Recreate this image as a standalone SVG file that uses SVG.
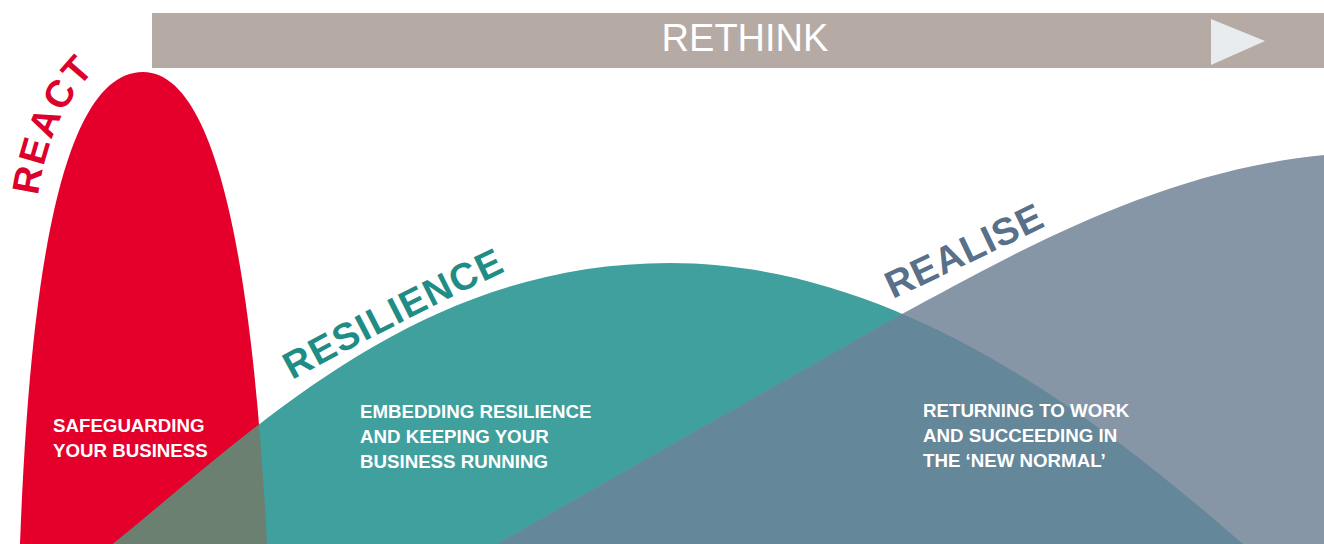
<svg xmlns="http://www.w3.org/2000/svg" width="1324" height="544" viewBox="0 0 1324 544">
<style>
.body{font-family:"Liberation Sans",Arial,sans-serif;font-weight:700;font-size:18.7px;fill:#ffffff}
.head{font-family:"Liberation Sans",Arial,sans-serif;font-weight:700}
</style>
<defs>
<path id="redShape" d="M20,544 C28,330 52,72 143,72 C228,72 256,330 267,544 Z"/>
<path id="tealShape" d="M113,544 C260,425 420,263 670,263 C900,263 1100,420 1243,544 Z"/>
<path id="slateShape" d="M497,544 L900,315 C1000,262 1150,172 1324,155 L1324,544 Z"/>
<clipPath id="clipRed"><use href="#redShape"/></clipPath>
<clipPath id="clipTeal"><use href="#tealShape"/></clipPath>
<path id="reactPath" d="M38,196 Q50,112 99,66"/>
<path id="resPath" d="M292,380 Q400,321 514,267"/>
<path id="realPath" d="M893,299 Q970,263 1052,223"/>
</defs>
<rect width="1324" height="544" fill="#ffffff"/>
<g id="rethink">
<rect x="152" y="13" width="1172" height="55" fill="#b6aaa4"/>
<polygon points="1211,19 1211,65 1265,41" fill="#e8ecef"/>
<text x="745" y="51" text-anchor="middle" font-family="Liberation Sans,Arial,sans-serif" font-size="38" fill="#ffffff">RETHINK</text>
</g>
<g id="curves">
<use href="#redShape" fill="#e4002b"/>
<use href="#tealShape" fill="#40a09d"/>
<use href="#slateShape" fill="#8696a7"/>
<use href="#tealShape" fill="#6b8070" clip-path="url(#clipRed)"/>
<use href="#slateShape" fill="#64879a" clip-path="url(#clipTeal)"/>
</g>
<g id="react">
<text class="head" font-size="38" fill="#dc002b"><textPath href="#reactPath" textLength="140" lengthAdjust="spacing">REACT</textPath></text>
<text class="body" x="53" y="432">SAFEGUARDING</text>
<text class="body" x="53" y="457">YOUR BUSINESS</text>
</g>
<g id="resilience">
<text class="head" font-size="38" fill="#1f8c85"><textPath href="#resPath" textLength="240" lengthAdjust="spacing">RESILIENCE</textPath></text>
<text class="body" x="360" y="418">EMBEDDING RESILIENCE</text>
<text class="body" x="360" y="443">AND KEEPING YOUR</text>
<text class="body" x="360" y="468">BUSINESS RUNNING</text>
</g>
<g id="realise">
<text class="head" font-size="38" fill="#58708a"><textPath href="#realPath" textLength="170" lengthAdjust="spacing">REALISE</textPath></text>
<text class="body" x="923" y="417">RETURNING TO WORK</text>
<text class="body" x="923" y="442">AND SUCCEEDING IN</text>
<text class="body" x="923" y="467">THE ‘NEW NORMAL’</text>
</g>
</svg>
